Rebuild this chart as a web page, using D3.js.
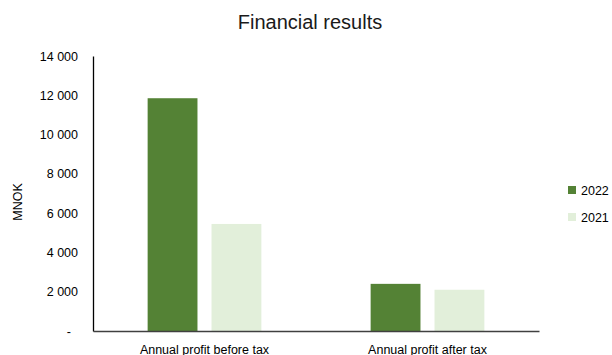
<!DOCTYPE html>
<html lang="en">
<head>
    <meta charset="UTF-8">
    <title>Financial results</title>
    <script src="https://d3js.org/d3.v7.min.js"></script>
    <style>
        body {
            margin: 0;
            background-color: white;
            font-family: "Liberation Sans", Arial, sans-serif;
        }
        svg {
            display: block;
        }
    </style>
</head>
<body>
<svg></svg>

<script>
    // data
    const categories = ["Annual profit before tax", "Annual profit after tax"];
    const years = ["2022", "2021"];
    const values2022 = [11850, 2400];
    const values2021 = [5450, 2100];
    const yTicks = [0, 2000, 4000, 6000, 8000, 10000, 12000, 14000];

    const colors = { "2022": "#548235", "2021": "#e2efda" };

    const W = 612, H = 355;
    const margin = { top: 56, right: 73, bottom: 24, left: 93 };
    const width = W - margin.left - margin.right;
    const height = H - margin.top - margin.bottom;

    const svg = d3.select("svg")
        .attr("width", W)
        .attr("height", H);

    const chartArea = svg.append("g")
        .attr("transform", `translate(${margin.left},${margin.top})`);

    const data = categories.map((c, i) => ({
        category: c,
        values: [
            { year: "2022", value: values2022[i] },
            { year: "2021", value: values2021[i] }
        ]
    }));

    const xScale = d3.scaleBand()
        .domain(categories)
        .range([0, width])
        .paddingInner(0.49)
        .paddingOuter(0.245);

    const xInner = d3.scaleBand()
        .domain(years)
        .range([0, xScale.bandwidth()])
        .paddingInner(0.22);

    const yScale = d3.scaleLinear()
        .domain([0, 14000])
        .range([height, 0]);

    // bars
    chartArea.selectAll(".group")
        .data(data)
        .enter()
        .append("g")
        .attr("class", "group")
        .attr("transform", d => `translate(${xScale(d.category)},0)`)
        .selectAll("rect")
        .data(d => d.values)
        .enter()
        .append("rect")
        .attr("x", d => xInner(d.year))
        .attr("y", d => yScale(d.value))
        .attr("width", xInner.bandwidth())
        .attr("height", d => height - yScale(d.value))
        .attr("fill", d => colors[d.year]);

    // y axis, thousands separated by a space, zero shown as "-"
    const yAxis = chartArea.append("g")
        .call(d3.axisLeft(yScale)
            .tickValues(yTicks)
            .tickSize(0)
            .tickPadding(15)
            .tickFormat(v => v === 0 ? "-" : d3.format(",")(v).replace(",", " ")));
    yAxis.select(".domain")
        .attr("stroke", "#000")
        .attr("stroke-width", 1.3);
    yAxis.selectAll("text")
        .style("font-family", "Liberation Sans, Arial, sans-serif")
        .style("font-size", "12.5px")
        .attr("fill", "#000");
    yAxis.selectAll(".tick")
        .filter(d => d === 0)
        .select("text")
        .attr("dx", -7);

    // x axis
    const xAxis = chartArea.append("g")
        .attr("transform", `translate(0,${height})`)
        .call(d3.axisBottom(xScale).tickSize(0).tickPadding(14).tickSizeOuter(0));
    xAxis.select(".domain")
        .attr("stroke", "#404040")
        .attr("stroke-width", 1.3);
    xAxis.selectAll("text")
        .style("font-family", "Liberation Sans, Arial, sans-serif")
        .style("font-size", "12.5px")
        .attr("fill", "#000");

    // y axis label
    svg.append("text")
        .attr("transform", "rotate(-90)")
        .attr("x", -202)
        .attr("y", 22)
        .style("text-anchor", "middle")
        .style("font-size", "12.5px")
        .text("MNOK");

    // title
    svg.append("text")
        .attr("x", 310)
        .attr("y", 29)
        .style("text-anchor", "middle")
        .style("font-size", "20px")
        .attr("fill", "#1a1a1a")
        .text("Financial results");

    // legend
    const legend = svg.append("g")
        .attr("transform", "translate(568,190)");
    years.forEach((y, i) => {
        const item = legend.append("g")
            .attr("transform", `translate(0,${i * 27})`);
        item.append("rect")
            .attr("x", 0)
            .attr("y", -4)
            .attr("width", 8)
            .attr("height", 8)
            .attr("fill", colors[y]);
        item.append("text")
            .attr("x", 13)
            .attr("y", 4.5)
            .style("font-size", "12.5px")
            .text(y);
    });
</script>
</body>
</html>
